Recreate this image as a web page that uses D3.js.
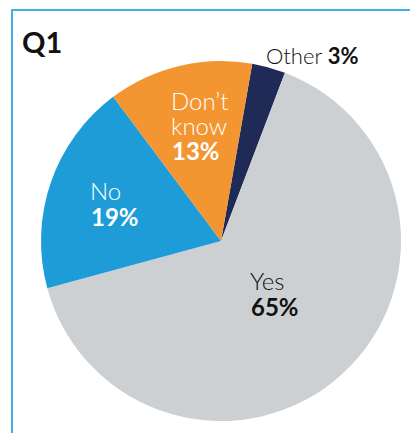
<!DOCTYPE html>
<html>
<head>
<meta charset="utf-8">
<script src="https://cdn.jsdelivr.net/npm/d3@7"></script>
<style>
  html, body { margin: 0; padding: 0; background: #fff; }
  svg { display: block; font-family: Lato, "Open Sans", sans-serif; }
</style>
</head>
<body>
<svg id="chart" width="410" height="433"></svg>
<script>
// Survey answers for Q1, in drawing order (clockwise)
const categories = ["Other", "Yes", "No", "Don’t know"];
const values = [3, 65, 19, 13];
const colors = ["#1f2a56", "#cdd0d3", "#1d9cd8", "#f39531"];
const labelLines = [["Other"], ["Yes"], ["No"], ["Don’t", "know"]];
const labelColors = ["#111", "#111", "#fff", "#fff"];

const svg = d3.select("#chart");
const cx = 221, cy = 241, r = 180;

// Frame on top and left
svg.append("path")
  .attr("d", "M12,433 L12,10 L410,10")
  .attr("fill", "none")
  .attr("stroke", "#41b1e6")
  .attr("stroke-width", 2);

const pie = d3.pie().sort(null).value(d => d)
  .startAngle(10 * Math.PI / 180)
  .endAngle(10 * Math.PI / 180 + 2 * Math.PI);
const arcs = pie(values);
const arc = d3.arc().innerRadius(0).outerRadius(r);

const g = svg.append("g").attr("transform", `translate(${cx},${cy})`);
g.selectAll("path.slice")
  .data(arcs)
  .join("path")
  .attr("class", "slice")
  .attr("d", arc)
  .attr("fill", (d, i) => colors[i]);

// Title
svg.append("text")
  .attr("x", 22).attr("y", 53)
  .attr("font-size", 29).attr("font-weight", 700)
  .attr("fill", "#111")
  .text("Q1");

// "Other" sits outside the pie on one line
const other = svg.append("text")
  .attr("x", 266).attr("y", 64)
  .attr("font-size", 22).attr("fill", "#111");
other.append("tspan").attr("font-weight", 300).text(categories[0] + " ");
other.append("tspan").attr("font-weight", 700).text(values[0] + "%");

// Labels inside the slices: name lines then bold percentage
const inside = [
  { i: 1, x: 250, y: 290 },
  { i: 2, x: 90, y: 200 },
  { i: 3, x: 171, y: 110 }
];
const lh = 24.5;
inside.forEach(p => {
  const lines = labelLines[p.i];
  lines.forEach((line, k) => {
    svg.append("text")
      .attr("x", p.x).attr("y", p.y + k * lh)
      .attr("font-size", 24).attr("font-weight", 300)
      .attr("fill", labelColors[p.i])
      .text(line);
  });
  svg.append("text")
    .attr("x", p.x + 1).attr("y", p.y + lines.length * lh + 1)
    .attr("font-size", 24).attr("font-weight", 700)
    .attr("fill", labelColors[p.i])
    .text(values[p.i] + "%");
});
</script>
</body>
</html>
